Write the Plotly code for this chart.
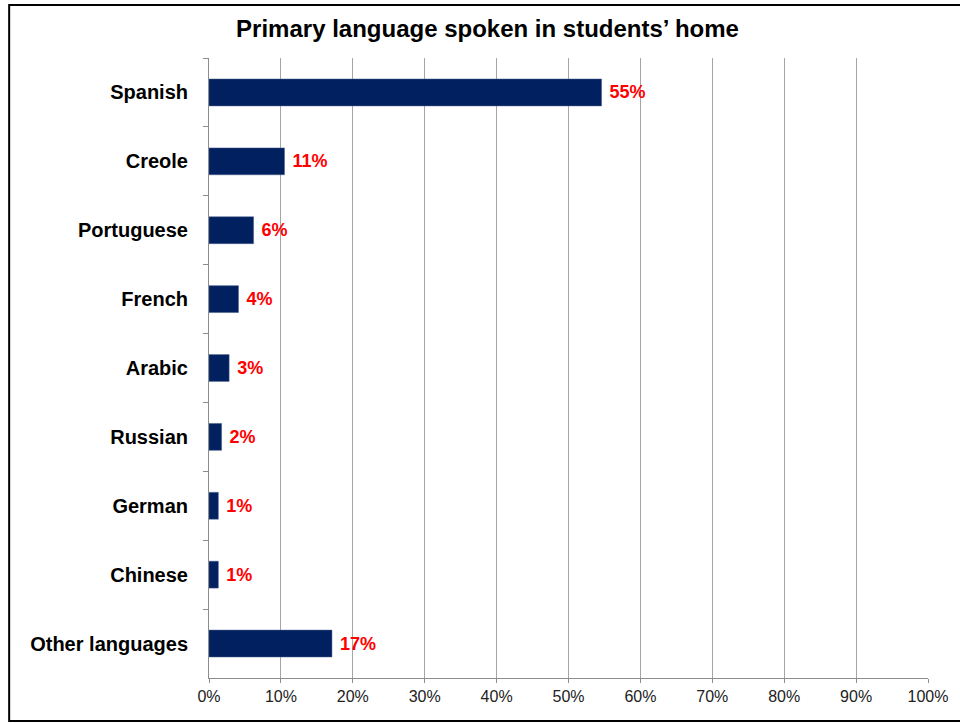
import plotly.graph_objects as go

categories = ["Spanish", "Creole", "Portuguese", "French", "Arabic",
              "Russian", "German", "Chinese", "Other languages"]
values = [54.6, 10.5, 6.2, 4.1, 2.8, 1.75, 1.3, 1.3, 17.1]
labels = ["55%", "11%", "6%", "4%", "3%", "2%", "1%", "1%", "17%"]
tick_vals = [0, 10, 20, 30, 40, 50, 60, 70, 80, 90, 100]
tick_text = ["0%", "10%", "20%", "30%", "40%", "50%", "60%", "70%", "80%", "90%", "100%"]

FONT = "Liberation Sans, Arial, sans-serif"

fig = go.Figure(go.Bar(
    x=values, y=categories, orientation="h",
    marker=dict(color="#002060", line=dict(color="#4a5f8a", width=0.5)),
    width=0.39,
    text=["\u00a0" + t for t in labels], textposition="outside", cliponaxis=False,
    textfont=dict(family=FONT, size=18, color="#ff0000", weight="bold"),
    hoverinfo="skip",
))

L, R, T, B = 209, 26, 58, 45
W, H = 960, 723
pw = W - L - R
ph = H - T - B

def px(p):
    return (p - L) / pw

def py(p):
    return (H - B - p) / ph

fig.update_layout(
    width=W, height=H,
    margin=dict(l=L, r=R, t=T, b=B),
    paper_bgcolor="white", plot_bgcolor="white",
    showlegend=False,
    font=dict(family=FONT),
    title=dict(text="<b>Primary language spoken in students’ home</b>",
               x=(487.5) / W, xanchor="center", y=1 - 29 / H, yanchor="middle",
               font=dict(family=FONT, size=24, color="black")),
    xaxis=dict(range=[0, 100], tickvals=tick_vals, ticktext=tick_text,
               showgrid=True, gridcolor="#a6a6a6", gridwidth=1,
               showline=True, linecolor="#8c8c8c", linewidth=1,
               ticks="outside", ticklen=4, tickcolor="#8c8c8c",
               tickfont=dict(family=FONT, size=16, color="#222222"),
               zeroline=False, fixedrange=True),
    yaxis=dict(categoryorder="array", categoryarray=categories, autorange="reversed",
               showline=True, linecolor="#8c8c8c", linewidth=1,
               ticks="outside", ticklen=5, tickcolor="#8c8c8c", tickson="boundaries",
               tickfont=dict(family=FONT, size=20, color="black", weight="bold"),
               ticklabelstandoff=16,
               showgrid=False, fixedrange=True),
    bargap=0.6,
    shapes=[dict(type="rect", xref="paper", yref="paper",
                 x0=px(7.5), x1=px(975), y0=py(721), y1=py(5),
                 line=dict(color="black", width=2), fillcolor="rgba(0,0,0,0)",
                 layer="above")],
)

fig.write_html("out.html", config={"displayModeBar": False},
               post_script="document.body.style.margin='0';document.body.style.padding='0';")
